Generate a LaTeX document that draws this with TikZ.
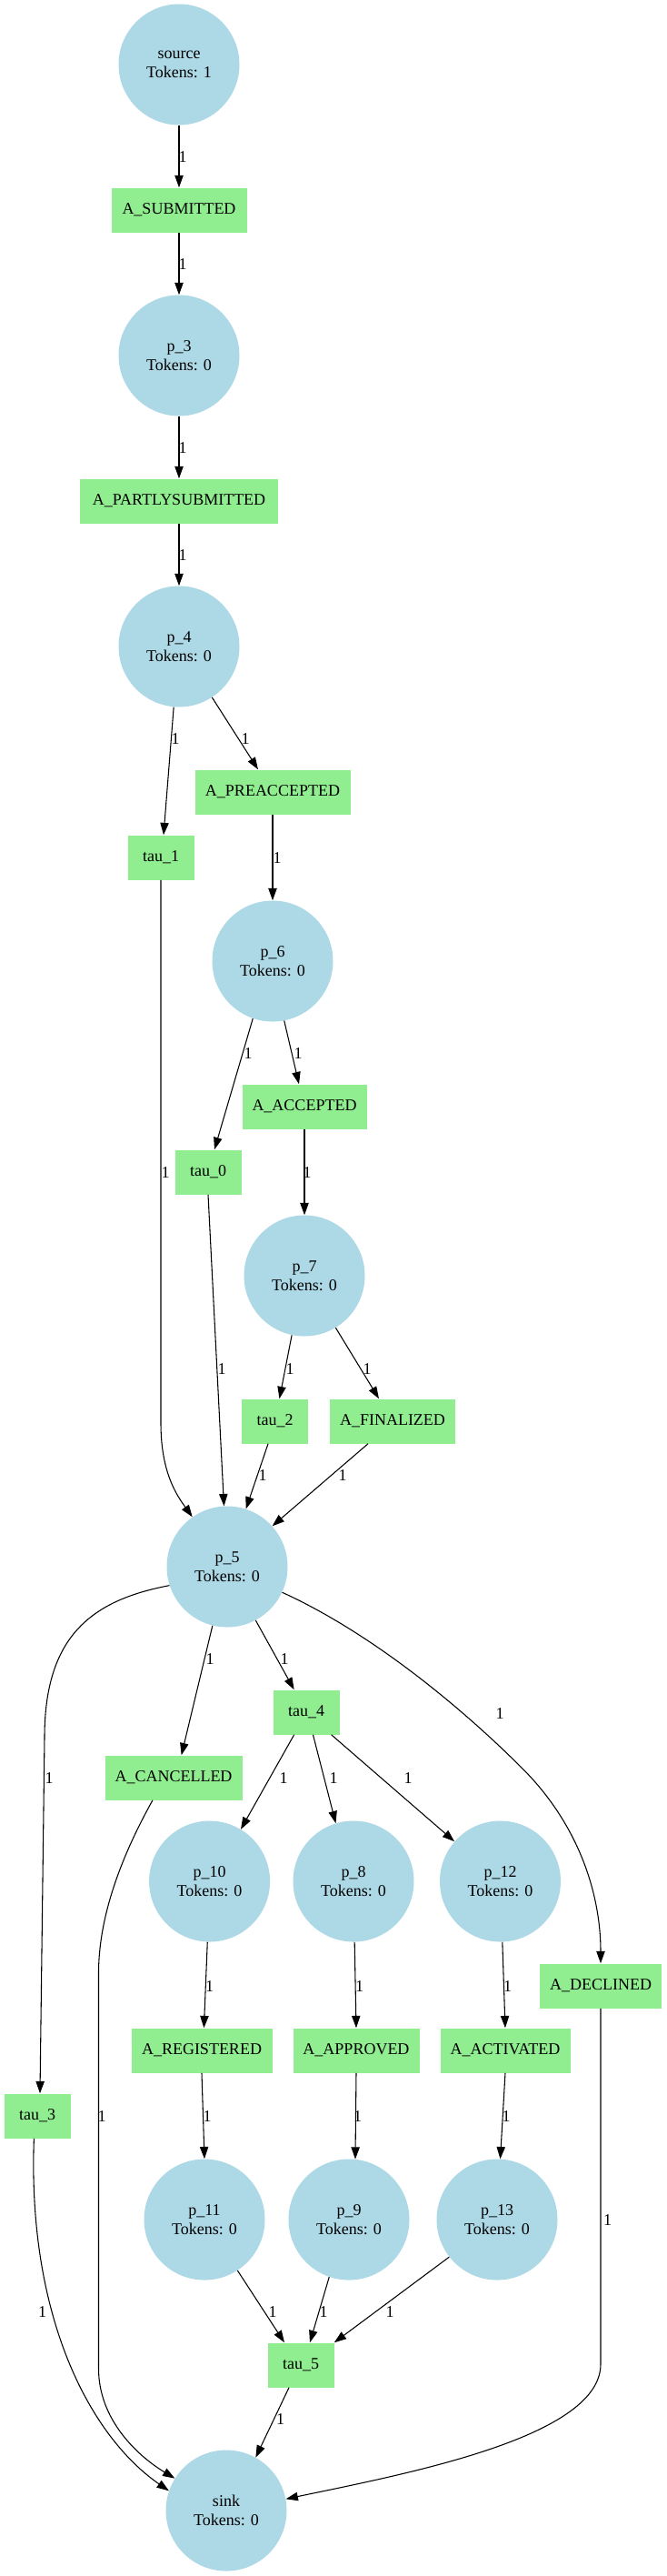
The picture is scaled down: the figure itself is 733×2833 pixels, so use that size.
\documentclass[tikz,border=0pt]{standalone}
\usepackage{fontspec}
\setmainfont{Liberation Serif}
\usetikzlibrary{arrows.meta}
\definecolor{placeblue}{HTML}{ADD8E6}
\definecolor{transgreen}{HTML}{90EE90}
\begin{document}
\begin{tikzpicture}[x=0.75pt,y=-0.75pt,
  place/.style={circle, fill=placeblue, minimum size=99.75pt, inner sep=0pt, align=center,
    font=\fontsize{13.5pt}{16pt}\selectfont},
  trans/.style={rectangle, fill=transgreen, minimum height=36.75pt, inner sep=0pt,
    font=\fontsize{13.5pt}{16pt}\selectfont},
  arc/.style={draw=black, line width=0.8pt, -{Triangle[length=10pt,width=7pt]}},
  wl/.style={inner sep=0pt, font=\fontsize{13.5pt}{16pt}\selectfont}]
\useasboundingbox (0,0) rectangle (733,2833);

% places
\node[place] (source) at (197,71) {source\\Tokens: 1};
\node[place] (p3) at (197,391) {p\_3\\Tokens: 0};
\node[place] (p4) at (197,711) {p\_4\\Tokens: 0};
\node[place] (p6) at (300,1057) {p\_6\\Tokens: 0};
\node[place] (p7) at (335,1403) {p\_7\\Tokens: 0};
\node[place] (p5) at (250,1723) {p\_5\\Tokens: 0};
\node[place] (p10) at (230.6,2069) {p\_10\\Tokens: 0};
\node[place] (p8) at (389,2069) {p\_8\\Tokens: 0};
\node[place] (p12) at (550.5,2069) {p\_12\\Tokens: 0};
\node[place] (p11) at (225,2441) {p\_11\\Tokens: 0};
\node[place] (p9) at (384,2441) {p\_9\\Tokens: 0};
\node[place] (p13) at (547,2441) {p\_13\\Tokens: 0};
\node[place] (sink) at (249,2761) {sink\\Tokens: 0};

% transitions
\node[trans, minimum width=111.75pt] (asub) at (197,231) {A\_SUBMITTED};
\node[trans, minimum width=163.5pt] (apart) at (197,551) {A\_PARTLYSUBMITTED};
\node[trans, minimum width=128.25pt] (apre) at (300,871) {A\_PREACCEPTED};
\node[trans, minimum width=54.75pt] (tau1) at (177,943) {tau\_1};
\node[trans, minimum width=102.75pt] (aacc) at (335,1217) {A\_ACCEPTED};
\node[trans, minimum width=54.75pt] (tau0) at (229,1289) {tau\_0};
\node[trans, minimum width=54.75pt] (tau2) at (302.5,1563) {tau\_2};
\node[trans, minimum width=103.5pt] (afin) at (432,1563) {A\_FINALIZED};
\node[trans, minimum width=54.75pt] (tau4) at (337,1883) {tau\_4};
\node[trans, minimum width=113.25pt] (acan) at (191,1955) {A\_CANCELLED};
\node[trans, minimum width=100.5pt] (adec) at (661,2184) {A\_DECLINED};
\node[trans, minimum width=116.25pt] (areg) at (222,2255) {A\_REGISTERED};
\node[trans, minimum width=104.25pt] (aapp) at (392,2255) {A\_APPROVED};
\node[trans, minimum width=107.25pt] (aact) at (556,2255) {A\_ACTIVATED};
\node[trans, minimum width=54.75pt] (tau3) at (41,2327) {tau\_3};
\node[trans, minimum width=54.75pt] (tau5) at (331,2601) {tau\_5};

% arcs
\draw[arc] (source) -- (asub);
\draw[arc] (asub) -- (p3);
\draw[arc] (p3) -- (apart);
\draw[arc] (apart) -- (p4);
\draw[arc] (p4.265) -- ([xshift=2.25pt]tau1.north);
\draw[arc] (p4.303) -- ([xshift=-12pt]apre.north);
\draw[arc] (apre.south) -- (p6.north);
\draw[arc] (tau1.south) -- (177,1565) .. controls (177,1620) and (195,1645) .. (p5.125);
\draw[arc] (p6.251) -- ([xshift=5.25pt]tau0.north);
\draw[arc] (p6.281) -- ([xshift=-4.5pt]aacc.north);
\draw[arc] (aacc.south) -- (p7.north);
\draw[arc] (tau0.south) -- (p5.93);
\draw[arc] (p7.258) -- ([xshift=3.75pt]tau2.north);
\draw[arc] (p7.301) -- ([xshift=-11.25pt]afin.north);
\draw[arc] ([xshift=-5.6pt]tau2.south) -- (p5.72);
\draw[arc] ([xshift=-20.25pt]afin.south) -- (p5.42);
\draw[arc] (p5.198) .. controls (100,1760) and (49,1800) .. (49,1911) -- ([xshift=2.25pt]tau3.north);
\draw[arc] (p5.256) -- ([xshift=6.5pt]acan.north);
\draw[arc] (p5.298) -- ([xshift=-10pt]tau4.north);
\draw[arc] (p5.335) .. controls (411,1797) and (510,1880) .. (575,1945)
  .. controls (635,2005) and (661,2080) .. (adec.north);
\draw[arc] ([xshift=-10pt]tau4.south) -- (p10.59);
\draw[arc] ([xshift=5.6pt]tau4.south) -- (p8.107);
\draw[arc] ([xshift=20.7pt]tau4.south) -- (p12.139);
\draw[arc] ([xshift=-17.25pt]acan.south) .. controls (140,2030) and (108.5,2100) .. (108.5,2170)
  -- (108.5,2605) .. controls (108.5,2660) and (150,2700) .. (sink.148);
\draw[arc] (adec.south) -- (661,2600) .. controls (661,2680) and (450,2720) .. (sink.11);
\draw[arc] ([xshift=-2.7pt]tau3.south) .. controls (30,2550) and (100,2680) .. (sink.161);
\draw[arc] (p10.268) -- ([xshift=1.8pt]areg.north);
\draw[arc] (p8.271) -- (aapp.north);
\draw[arc] (p12.272) -- (aact.north);
\draw[arc] (areg.south) -- (p11.north);
\draw[arc] (aapp.south) -- (p9.84);
\draw[arc] (aact.south) -- (p13.87);
\draw[arc] (p11.303) -- ([xshift=-13.5pt]tau5.north);
\draw[arc] (p9.251) -- ([xshift=7.5pt]tau5.north);
\draw[arc] (p13.218) -- (tau5.north east);
\draw[arc] ([xshift=-9.75pt]tau5.south) -- (sink.61);

% arc labels
\node[wl] (l1) at (201,173) {1};
\node[wl] (l2) at (201,291) {1};
\node[wl] (l3) at (201,493) {1};
\node[wl] (l4) at (201,611) {1};
\node[wl] (l5) at (193,813) {1};
\node[wl] (l6) at (270,813) {1};
\node[wl] (l7) at (305,944) {1};
\node[wl] (l8) at (182,1290) {1};
\node[wl] (l9) at (273,1159) {1};
\node[wl] (l10) at (328,1159) {1};
\node[wl] (l11) at (338,1290) {1};
\node[wl] (l12) at (244,1506) {1};
\node[wl] (l13) at (319,1506) {1};
\node[wl] (l14) at (404,1506) {1};
\node[wl] (l15) at (289,1623) {1};
\node[wl] (l16) at (377,1623) {1};
\node[wl] (l17) at (54,1956) {1};
\node[wl] (l18) at (231,1825) {1};
\node[wl] (l19) at (313,1825) {1};
\node[wl] (l20) at (550,1885) {1};
\node[wl] (l21) at (312,1956) {1};
\node[wl] (l22) at (367,1956) {1};
\node[wl] (l23) at (449,1956) {1};
\node[wl] (l24) at (112,2328) {1};
\node[wl] (l25) at (668.5,2442) {1};
\node[wl] (l26) at (46.7,2543) {1};
\node[wl] (l27) at (230.5,2185) {1};
\node[wl] (l28) at (395.5,2185) {1};
\node[wl] (l29) at (558.7,2185) {1};
\node[wl] (l30) at (228,2328) {1};
\node[wl] (l31) at (393.6,2328) {1};
\node[wl] (l32) at (557,2328) {1};
\node[wl] (l33) at (300,2543) {1};
\node[wl] (l34) at (356,2543) {1};
\node[wl] (l35) at (429,2543) {1};
\node[wl] (l36) at (308.6,2661) {1};
\end{tikzpicture}
\end{document}
